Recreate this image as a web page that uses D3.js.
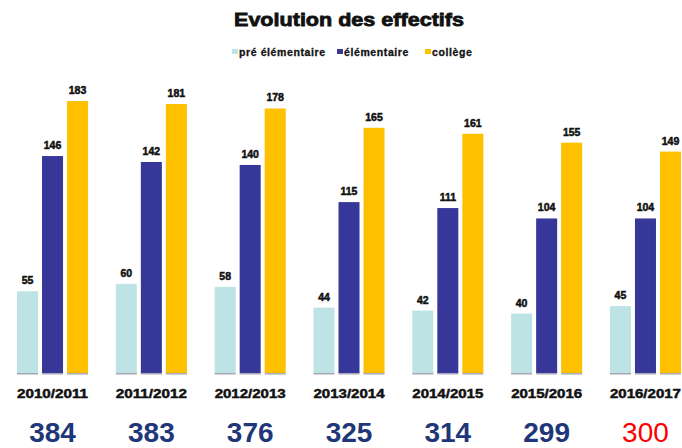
<!DOCTYPE html>
<html>
<head>
<meta charset="utf-8">
<script src="https://cdn.jsdelivr.net/npm/d3@7"></script>
<style>
  body { margin: 0; background: #fff; }
  text { font-family: "Liberation Sans", Arial, sans-serif; }
</style>
</head>
<body>
<div class="js-chart"></div>
<script>
// data
var years = ['2010/2011', '2011/2012', '2012/2013', '2013/2014', '2014/2015', '2015/2016', '2016/2017'];
var series = ['pré élémentaire', 'élémentaire', 'collège'];
var preElementaire = [55, 60, 58, 44, 42, 40, 45];
var elementaire = [146, 142, 140, 115, 111, 104, 104];
var college = [183, 181, 178, 165, 161, 155, 149];
var totals = [384, 383, 376, 325, 314, 299, 300];

var colors = ['#bde3e5', '#37379a', '#ffc000'];

var width = 682, height = 448;
var baseline = 373;

var rows = years.map(function(y, i) {
  return { year: y, values: [preElementaire[i], elementaire[i], college[i]], total: totals[i] };
});

var svg = d3.select('.js-chart').append('svg')
  .attr('width', width)
  .attr('height', height);

// scales
var x0 = d3.scaleBand()
  .domain(years)
  .range([17, 681])
  .paddingInner(0.281);

var x1 = d3.scaleBand()
  .domain(series)
  .range([0, x0.bandwidth()])
  .paddingInner(0.16);

var y = d3.scaleLinear()
  .domain([0, 200])
  .range([baseline, baseline - 200 * 1.486]);

var color = d3.scaleOrdinal().domain(series).range(colors);

// title
svg.append('text')
  .attr('x', 349)
  .attr('y', 26)
  .attr('text-anchor', 'middle')
  .attr('font-size', 19)
  .attr('font-weight', 'bold')
  .attr('stroke', '#111')
  .attr('stroke-width', 0.8)
  .attr('fill', '#111')
  .attr('textLength', 230)
  .attr('lengthAdjust', 'spacingAndGlyphs')
  .text('Evolution des effectifs');

// legend
var legendX = [232, 337, 425];
var legend = svg.selectAll('.legend')
  .data(series)
  .enter().append('g')
  .attr('class', 'legend')
  .attr('transform', function(d, i) { return 'translate(' + legendX[i] + ',48)'; });

legend.append('rect')
  .attr('width', 6)
  .attr('height', 5)
  .attr('y', 1)
  .attr('fill', function(d) { return color(d); });

legend.append('text')
  .attr('x', 7)
  .attr('y', 7.5)
  .attr('font-size', 10.5)
  .attr('font-weight', 'bold')
  .attr('letter-spacing', 0.6)
  .attr('fill', '#111')
  .attr('stroke', '#111')
  .attr('stroke-width', 0.3)
  .text(function(d) { return d; });

// bars
var groups = svg.selectAll('.group')
  .data(rows)
  .enter().append('g')
  .attr('class', 'group')
  .attr('transform', function(d) { return 'translate(' + x0(d.year) + ',0)'; });

var bars = groups.selectAll('.bar')
  .data(function(d) {
    return d.values.map(function(v, i) { return { key: series[i], value: v }; });
  })
  .enter().append('g')
  .attr('class', 'bar');

// faint shadow at the foot of each bar
bars.append('rect')
  .attr('x', function(d) { return x1(d.key); })
  .attr('y', baseline - 0.5)
  .attr('width', x1.bandwidth())
  .attr('height', 2)
  .attr('fill', '#a8a8b8');

bars.append('rect')
  .attr('x', function(d) { return x1(d.key); })
  .attr('y', function(d) { return y(d.value); })
  .attr('width', x1.bandwidth())
  .attr('height', function(d) { return baseline - y(d.value); })
  .attr('fill', function(d) { return color(d.key); });

bars.append('text')
  .attr('x', function(d) { return x1(d.key) + x1.bandwidth() / 2; })
  .attr('y', function(d) { return y(d.value) - 7; })
  .attr('text-anchor', 'middle')
  .attr('font-size', 10.5)
  .attr('font-weight', 'bold')
  .attr('fill', '#111')
  .attr('stroke', '#111')
  .attr('stroke-width', 0.5)
  .text(function(d) { return d.value; });

// year labels
groups.append('text')
  .attr('x', x0.bandwidth() / 2)
  .attr('y', 398)
  .attr('text-anchor', 'middle')
  .attr('font-size', 13)
  .attr('font-weight', 'bold')
  .attr('fill', '#111')
  .attr('stroke', '#111')
  .attr('stroke-width', 0.5)
  .attr('textLength', 71)
  .attr('lengthAdjust', 'spacingAndGlyphs')
  .text(function(d) { return d.year; });

// totals, the last one in red
groups.append('text')
  .attr('x', x0.bandwidth() / 2)
  .attr('y', 442)
  .attr('text-anchor', 'middle')
  .attr('font-size', 28)
  .attr('font-weight', function(d, i) { return i === years.length - 1 ? 'normal' : 'bold'; })
  .attr('fill', function(d, i) { return i === years.length - 1 ? '#ff0000' : '#1f3778'; })
  .text(function(d) { return d.total; });
</script>
</body>
</html>
